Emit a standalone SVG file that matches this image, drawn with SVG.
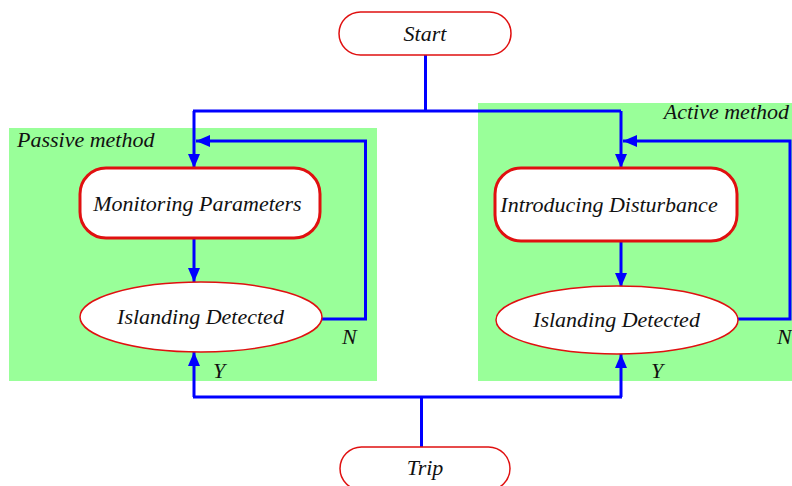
<svg xmlns="http://www.w3.org/2000/svg" width="792" height="486" viewBox="0 0 792 486">
<defs>
<style>
.t{font-family:'Liberation Serif','Times New Roman','DejaVu Serif',serif;font-style:italic;fill:#111;font-size:22px;}
.n{fill:#fff;stroke:#e01010;}
.c{fill:none;stroke:#0000ff;stroke-width:3;}
.g{fill:#99ff99;}
</style>
<marker id="ah" viewBox="0 0 14 12" refX="14" refY="6" markerWidth="14" markerHeight="12" markerUnits="userSpaceOnUse" orient="auto">
<path d="M0,0 L14,6 L0,12 Z" fill="#0000ff"/>
</marker>
</defs>
<rect width="792" height="486" fill="#fff"/>
<g id="passive-region">
<rect class="g" x="9" y="128" width="368" height="253"/>
<text class="t" x="17" y="147">Passive method</text>
</g>
<g id="active-region">
<rect class="g" x="478" y="103" width="314" height="278"/>
<text class="t" x="789" y="119" text-anchor="end">Active method</text>
</g>
<g id="connectors">
<path class="c" d="M425.5,55 V111 M193,111 H621"/>
<path class="c" d="M194,111 V168" marker-end="url(#ah)"/>
<path class="c" d="M621,111 V168" marker-end="url(#ah)"/>
<path class="c" d="M194,238 V282" marker-end="url(#ah)"/>
<path class="c" d="M621,241 V287" marker-end="url(#ah)"/>
<path class="c" d="M322,319 H365.5 V141 H196" marker-end="url(#ah)"/>
<path class="c" d="M738,319 H790 V141 H623" marker-end="url(#ah)"/>
<path class="c" d="M421.5,447 V397 M193,397 H622"/>
<path class="c" d="M194,397 V352" marker-end="url(#ah)"/>
<path class="c" d="M621,397 V354" marker-end="url(#ah)"/>
<text class="t" x="342" y="344" font-size="20">N</text>
<text class="t" x="777" y="344" font-size="20">N</text>
<text class="t" x="213" y="378" font-size="20">Y</text>
<text class="t" x="651" y="378" font-size="20">Y</text>
</g>
<g id="start">
<rect class="n" x="339" y="12" width="172" height="43" rx="21.5" stroke-width="1.5"/>
<text class="t" x="425" y="41" text-anchor="middle">Start</text>
</g>
<g id="monitoring">
<rect class="n" x="80" y="168" width="240" height="70" rx="26" stroke-width="3"/>
<text class="t" x="197.5" y="211" text-anchor="middle">Monitoring Parameters</text>
</g>
<g id="islanding-passive">
<ellipse class="n" cx="201" cy="317" rx="121" ry="35" stroke-width="1.5"/>
<text class="t" x="200.5" y="324" text-anchor="middle">Islanding Detected</text>
</g>
<g id="introducing">
<rect class="n" x="495" y="168" width="242" height="73" rx="26" stroke-width="3"/>
<text class="t" x="609" y="212" text-anchor="middle">Introducing Disturbance</text>
</g>
<g id="islanding-active">
<ellipse class="n" cx="617" cy="320" rx="121" ry="34" stroke-width="1.5"/>
<text class="t" x="616.5" y="327" text-anchor="middle">Islanding Detected</text>
</g>
<g id="trip">
<rect class="n" x="340" y="447" width="170" height="43" rx="21.5" stroke-width="1.5"/>
<text class="t" x="425" y="475" text-anchor="middle">Trip</text>
</g>
</svg>
